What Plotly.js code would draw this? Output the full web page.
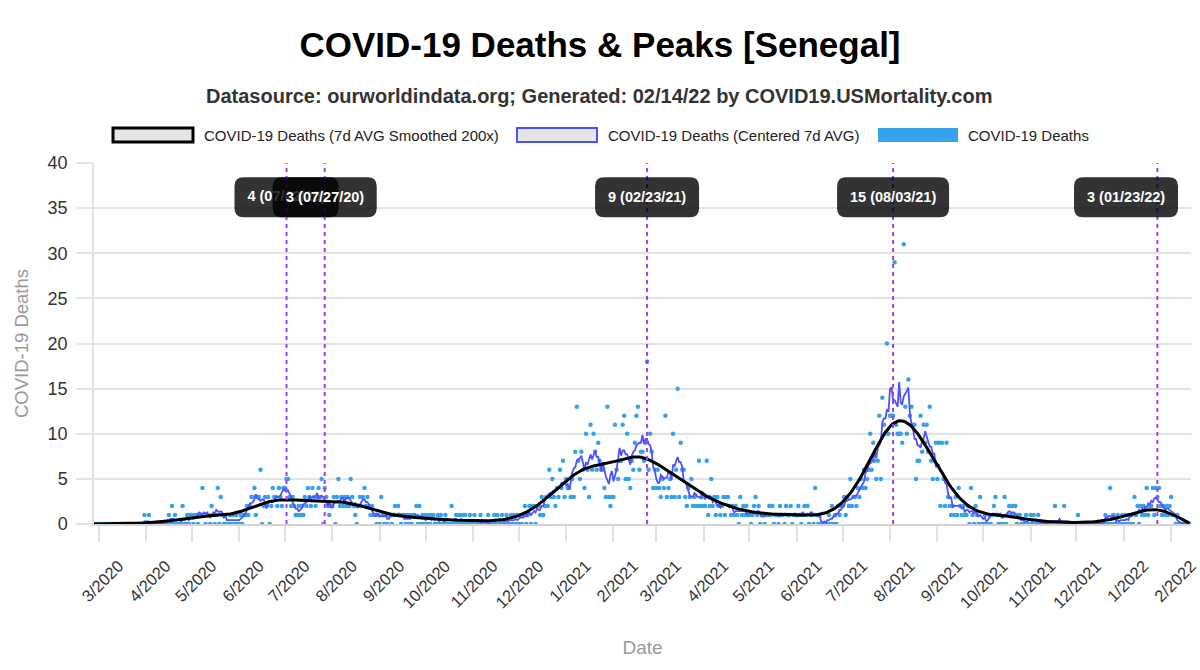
<!DOCTYPE html>
<html>
<head>
<meta charset="utf-8">
<script src="https://cdn.plot.ly/plotly-3.0.1.min.js"></script>
<style>
  html, body { margin: 0; padding: 0; background: #fff; }
  #chart { width: 1200px; height: 670px; }
</style>
</head>
<body>
<div id="chart"></div>
<script>
// daily deaths, first value is START_DATE
var START_DATE = "2020-02-27";

var deaths2020 = [
  0, 0, 0, // feb 27-29
  0, 0, 0, 0, 0, 0, 0, 0, 0, 0, 0, 0, 0, 0, 0, 0, 0, 0, 0, 0, 0, 0, 0, 0, 0, 0, 0, 0, 0, 0, 1, // mar
  0, 0, 1, 0, 0, 0, 0, 0, 0, 0, 0, 0, 0, 0, 0, 1, 0, 2, 0, 1, 0, 0, 0, 0, 2, 0, 0, 1, 0, 1, // apr
  1, 0, 1, 1, 0, 1, 1, 4, 1, 0, 1, 1, 0, 2, 1, 0, 1, 4, 0, 3, 1, 0, 1, 0, 0, 1, 0, 1, 0, 1, 0, // may
  0, 1, 0, 1, 1, 2, 1, 2, 3, 3, 4, 1, 3, 3, 6, 0, 2, 3, 2, 3, 0, 2, 4, 3, 3, 2, 4, 3, 2, 4, // jun
  4, 5, 5, 3, 2, 3, 2, 1, 1, 2, 1, 2, 1, 3, 2, 4, 3, 2, 4, 3, 2, 3, 4, 3, 5, 0, 4, 3, 2, 1, 2, // jul
  2, 3, 0, 3, 5, 2, 3, 2, 3, 2, 3, 2, 5, 3, 2, 1, 0, 2, 3, 2, 3, 4, 2, 3, 2, 1, 2, 1, 1, 0, 1, // aug
  0, 3, 1, 0, 1, 0, 1, 1, 0, 1, 2, 1, 2, 1, 0, 1, 1, 0, 1, 0, 1, 0, 1, 1, 2, 0, 2, 0, 1, 0, // sep
  1, 0, 1, 0, 1, 1, 0, 0, 1, 0, 1, 0, 0, 1, 0, 0, 0, 2, 0, 0, 1, 0, 1, 0, 1, 0, 1, 0, 0, 1, 0, // oct
  0, 1, 0, 0, 0, 1, 0, 0, 0, 0, 1, 0, 0, 0, 1, 0, 1, 0, 0, 1, 0, 0, 1, 0, 0, 1, 0, 1, 0, 1, // nov
  0, 1, 0, 1, 2, 0, 1, 2, 0, 2, 2, 0, 2, 2, 1, 3, 1, 2, 3, 2, 6, 3, 5, 3, 2, 4, 3, 6, 4, 7, 3 // dec
];

var deaths2021 = [
  5, 4, 4, 3, 5, 3, 8, 13, 7, 5, 8, 6, 4, 10, 6, 3, 11, 6, 10, 8, 6, 9, 7, 6, 6, 4, 3, 13, 3, 2, 3, // jan
  3, 11, 6, 5, 7, 7, 11, 12, 5, 10, 5, 4, 7, 6, 9, 12, 13, 6, 8, 8, 7, 9, 18, 6, 10, 8, 4, 6, // feb
  4, 6, 4, 3, 5, 4, 12, 3, 4, 5, 3, 10, 3, 6, 15, 3, 9, 6, 6, 3, 2, 4, 3, 5, 2, 3, 2, 2, 7, 2, 3, // mar
  2, 2, 7, 1, 2, 5, 2, 3, 1, 3, 2, 1, 2, 3, 1, 3, 3, 2, 1, 2, 1, 2, 1, 0, 3, 1, 2, 1, 2, 1, // apr
  1, 0, 1, 2, 3, 1, 2, 0, 1, 1, 0, 1, 1, 2, 1, 2, 0, 1, 1, 0, 2, 1, 1, 0, 2, 1, 1, 2, 0, 1, 1, // may
  1, 2, 1, 0, 1, 2, 1, 2, 0, 1, 1, 0, 4, 1, 0, 1, 0, 0, 0, 0, 0, 1, 0, 2, 0, 1, 0, 2, 1, 2, // jun
  2, 3, 1, 3, 2, 5, 2, 3, 3, 2, 4, 3, 5, 4, 6, 4, 5, 6, 10, 6, 9, 7, 5, 7, 12, 5, 14, 11, 10, 20, 10, // jul
  12, 12, 12, 29, 11, 10, 10, 10, 9, 31, 13, 10, 16, 12, 13, 11, 11, 5, 7, 7, 12, 8, 11, 9, 11, 8, 13, 7, 5, 7, 9, // aug
  5, 9, 2, 9, 5, 2, 9, 3, 2, 1, 2, 1, 3, 1, 4, 2, 1, 2, 1, 1, 2, 0, 4, 1, 0, 2, 1, 0, 3, 0, // sep
  0, 1, 0, 0, 1, 0, 1, 2, 3, 1, 0, 1, 0, 0, 3, 0, 1, 2, 1, 2, 1, 2, 0, 1, 1, 0, 0, 0, 1, 0, 0, // oct
  1, 0, 1, 0, 0, 1, 0, 0, 0, 0, 0, 0, 0, 0, 0, 0, 2, 0, 0, 0, 0, 0, 2, 0, 0, 0, 0, 0, 0, 0, // nov
  0, 1, 0, 0, 0, 0, 0, 0, 0, 0, 0, 0, 0, 0, 0, 0, 0, 0, 0, 1, 0, 0, 4, 0, 1, 0, 0, 1, 0, 0, 1 // dec
];

var deaths2022 = [
  0, 1, 0, 1, 0, 1, 0, 3, 1, 2, 0, 2, 1, 2, 1, 4, 1, 2, 2, 4, 1, 4, 3, 4, 2, 1, 2, 1, 2, 1, 2, // jan
  3, 1, 1, 0, 1, 0, 0, 0, 0, 0, 0, 0, 0 // feb 1-13
];

var tickLabels = [
  "3/2020", "4/2020", "5/2020", "6/2020", "7/2020", "8/2020", "9/2020", "10/2020", "11/2020", "12/2020",
  "1/2021", "2/2021", "3/2021", "4/2021", "5/2021", "6/2021", "7/2021", "8/2021", "9/2021", "10/2021",
  "11/2021", "12/2021", "1/2022", "2/2022"
];

var peakDates = ["2020-07-02", "2020-07-27", "2021-02-23", "2021-08-03", "2022-01-23"];
var peakLabels = ["4 (07/02/20)", "3 (07/27/20)", "9 (02/23/21)", "15 (08/03/21)", "3 (01/23/22)"];

var seriesNames = [
  "COVID-19 Deaths (7d AVG Smoothed 200x)",
  "COVID-19 Deaths (Centered 7d AVG)",
  "COVID-19 Deaths"
];

// ---- geometry / style ----
var PLOT_L = 94, PLOT_R = 1191.5, PLOT_T = 163, PLOT_B = 524;
var X_RANGE = ["2020-02-27", "2022-02-14"];
var Y_MAX = 40;
var LABEL_Y = 36.2;
var FONT = "Liberation Sans, Arial, sans-serif";
var DOT_BLUE = "rgb(54,162,235)";
var AVG_BLUE = "rgb(80,80,255)";
var PEAK_PURPLE = "#a53cf2";
var BOX_FILL = "rgba(0,0,0,0.8)";

function ms(iso) {
  var p = iso.split("-");
  return Date.UTC(+p[0], +p[1] - 1, +p[2]);
}

function addDays(iso, n) {
  return new Date(ms(iso) + n * 86400000).toISOString().slice(0, 10);
}

function dateToPx(iso) {
  var t0 = ms(X_RANGE[0]), t1 = ms(X_RANGE[1]);
  return PLOT_L + (ms(iso) - t0) / (t1 - t0) * (PLOT_R - PLOT_L);
}

function centered7(arr) {
  return arr.map(function (v, i) {
    var s = 0, n = 0;
    for (var k = i - 3; k <= i + 3; k++) {
      if (k >= 0 && k < arr.length) { s += arr[k]; n++; }
    }
    return s / n;
  });
}

// repeated 3-point mean, zero outside the series
function smooth(arr, passes) {
  var s = arr.slice();
  for (var p = 0; p < passes; p++) {
    var next = new Array(s.length);
    for (var i = 0; i < s.length; i++) {
      var a = i > 0 ? s[i - 1] : 0;
      var c = i < s.length - 1 ? s[i + 1] : 0;
      next[i] = (a + s[i] + c) / 3;
    }
    s = next;
  }
  return s;
}

function roundRect(x0, x1, y0, y1, r) {
  return "M" + (x0 + r) + "," + y0 +
    " L" + (x1 - r) + "," + y0 + " Q" + x1 + "," + y0 + " " + x1 + "," + (y0 + r) +
    " L" + x1 + "," + (y1 - r) + " Q" + x1 + "," + y1 + " " + (x1 - r) + "," + y1 +
    " L" + (x0 + r) + "," + y1 + " Q" + x0 + "," + y1 + " " + x0 + "," + (y1 - r) +
    " L" + x0 + "," + (y0 + r) + " Q" + x0 + "," + y0 + " " + (x0 + r) + "," + y0 + " Z";
}

var daily = deaths2020.concat(deaths2021, deaths2022);
var dates = daily.map(function (v, i) { return addDays(START_DATE, i); });
var avg7 = centered7(daily);
var smoothed = smooth(avg7, 200);

var tickVals = tickLabels.map(function (t) {
  var p = t.split("/");
  return p[1] + "-" + (p[0].length < 2 ? "0" : "") + p[0] + "-01";
});

// ---- peak labels: rounded boxes ----
var shapes = [];
var annotations = [];
var labelFont = { family: FONT, size: 14.5, color: "#fff", weight: "bold" };
var boxes = peakLabels.map(function (label, i) {
  var half = Math.round(label.length * 4.33);
  var c = dateToPx(peakDates[i]);
  var shift = 0;
  if (c + half > PLOT_R - 13) shift = PLOT_R - 13 - (c + half);
  if (c - half < PLOT_L + 13) shift = PLOT_L + 13 - (c - half);
  return { half: half, shift: shift, left: c + shift - half, right: c + shift + half };
});

peakDates.forEach(function (d) {
  shapes.push({
    type: "line", xref: "x", yref: "y", x0: d, x1: d, y0: 0, y1: Y_MAX,
    line: { color: PEAK_PURPLE, width: 2, dash: "4px,4px" }, layer: "above"
  });
});

// a box covered by the next one goes under the traces, its text as a text trace
var hiddenText = { x: [], y: [], text: [] };
peakLabels.forEach(function (label, i) {
  var b = boxes[i];
  var covered = i + 1 < boxes.length && boxes[i + 1].left < b.right;
  shapes.push({
    type: "path", xref: "x", yref: "y",
    xsizemode: "pixel", xanchor: peakDates[i],
    ysizemode: "pixel", yanchor: LABEL_Y,
    path: roundRect(b.shift - b.half, b.shift + b.half, -20, 20, 9),
    fillcolor: BOX_FILL, line: { width: 0 },
    layer: covered ? "between" : "above"
  });
  if (covered) {
    hiddenText.x.push(peakDates[i]);
    hiddenText.y.push(LABEL_Y);
    hiddenText.text.push(label);
  } else {
    annotations.push({
      xref: "x", yref: "y", x: peakDates[i], y: LABEL_Y, xshift: b.shift,
      text: label, showarrow: false, font: labelFont
    });
  }
});

// ---- legend drawn by hand (wide swatches) ----
var legendItems = [
  { x: 113, textX: 202, fill: "#e5e5e5", line: { color: "#000", width: 3 } },
  { x: 517, textX: 606, fill: "#e5e5e5", line: { color: AVG_BLUE, width: 2 } },
  { x: 878, textX: 966, fill: DOT_BLUE, line: { width: 0 } }
];
legendItems.forEach(function (it, i) {
  shapes.push({
    type: "rect", xref: "paper", yref: "paper",
    xsizemode: "pixel", xanchor: 0, ysizemode: "pixel", yanchor: 1,
    x0: it.x - PLOT_L, x1: it.x - PLOT_L + 80, y0: PLOT_T - 142, y1: PLOT_T - 128,
    fillcolor: it.fill, line: it.line, layer: "above"
  });
  annotations.push({
    xref: "paper", yref: "paper", x: 0, y: 1, xanchor: "left", yanchor: "middle",
    xshift: it.textX - PLOT_L, yshift: PLOT_T - 135,
    text: seriesNames[i], showarrow: false,
    font: { family: FONT, size: 15, color: "#222" }
  });
});

annotations.push({
  xref: "paper", yref: "paper", x: (600 - PLOT_L) / (PLOT_R - PLOT_L), y: 1,
  xanchor: "center", yanchor: "middle", yshift: PLOT_T - 96,
  text: "<b>Datasource: ourworldindata.org; Generated: 02/14/22 by COVID19.USMortality.com</b>",
  showarrow: false, font: { family: FONT, size: 20, color: "#333" }
});

var traces = [
  {
    x: dates, y: daily, type: "scatter", mode: "markers", name: seriesNames[2],
    marker: { color: DOT_BLUE, size: 4.5 }, hoverinfo: "x+y"
  },
  {
    x: dates, y: avg7, type: "scatter", mode: "lines", name: seriesNames[1],
    line: { color: AVG_BLUE, width: 1.8 }
  },
  {
    x: dates, y: smoothed, type: "scatter", mode: "lines", name: seriesNames[0],
    line: { color: "#000", width: 3 }
  },
  {
    x: hiddenText.x, y: hiddenText.y, text: hiddenText.text, type: "scatter", mode: "text",
    textposition: "middle center", hoverinfo: "skip", textfont: labelFont
  }
];

var layout = {
  width: 1200, height: 670,
  margin: { l: PLOT_L, r: 1200 - PLOT_R, t: PLOT_T, b: 670 - PLOT_B },
  paper_bgcolor: "#fff", plot_bgcolor: "#fff",
  showlegend: false,
  font: { family: FONT, color: "#333" },
  title: {
    text: "<b>COVID-19 Deaths &amp; Peaks [Senegal]</b>",
    font: { family: FONT, size: 35, color: "#000" },
    x: 0.5, xref: "container", xanchor: "center",
    y: 1 - 45 / 670, yref: "container", yanchor: "middle"
  },
  xaxis: {
    type: "date", range: X_RANGE,
    tickvals: tickVals, ticktext: tickLabels, tickangle: -45,
    tickfont: { family: FONT, size: 16.5, color: "#333" },
    ticklabelshift: 20, ticklabelstandoff: 8,
    ticks: "outside", ticklen: 16, tickcolor: "#e3e3e3", tickwidth: 1.5,
    showgrid: false, zeroline: false,
    showline: true, linecolor: "#d4d4d4", linewidth: 2,
    title: { text: "Date", font: { family: FONT, size: 19, color: "#999" }, standoff: 30 },
    fixedrange: true
  },
  yaxis: {
    range: [0, Y_MAX], dtick: 5, tick0: 0,
    tickfont: { family: FONT, size: 18, color: "#333" },
    ticks: "outside", ticklen: 16, tickcolor: "#e3e3e3", tickwidth: 1.5,
    ticklabelstandoff: 5,
    showgrid: true, gridcolor: "#e3e3e3", gridwidth: 1.5,
    zeroline: false, showline: true, linecolor: "#e3e3e3", linewidth: 1.5,
    title: { text: "COVID-19 Deaths", font: { family: FONT, size: 18.5, color: "#999" }, standoff: 14 },
    fixedrange: true
  },
  shapes: shapes,
  annotations: annotations
};

Plotly.newPlot("chart", traces, layout, { displayModeBar: false, responsive: false });
</script>
</body>
</html>
